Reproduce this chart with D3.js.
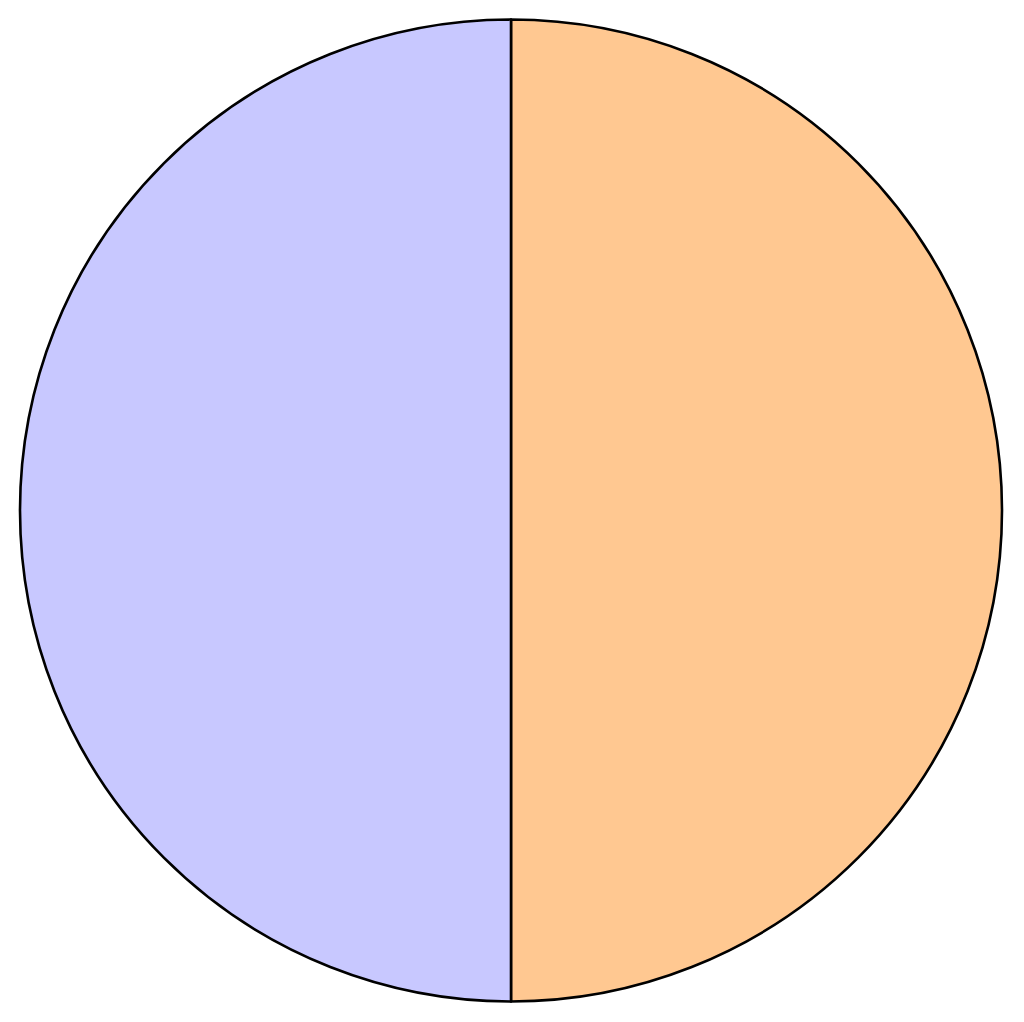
<!DOCTYPE html>
<html><head><meta charset="utf-8">
<script src="https://cdn.jsdelivr.net/npm/d3@7"></script>
<style>html,body{margin:0;padding:0;background:#fff;}svg{display:block;}</style>
</head><body>
<script>
const categories = ["A", "B"];
const values = [50, 50];
const colors = ["#ffc891", "#c8c8ff"];

const W = 1024, H = 1022;
const cx = 511, cy = 510.5, R = 491;
const svg = d3.select("body").append("svg").attr("width", W).attr("height", H);
const g = svg.append("g").attr("transform", `translate(${cx},${cy})`);
const data = categories.map((c, i) => ({cat: c, value: values[i]}));
const pie = d3.pie().value(d => d.value).sort(null);
const arc = d3.arc().innerRadius(0).outerRadius(R);
const color = d3.scaleOrdinal().domain(categories).range(colors);
g.selectAll("path").data(pie(data)).join("path")
  .attr("d", arc)
  .attr("fill", d => color(d.data.cat))
  .attr("stroke", "#000")
  .attr("stroke-width", 2.6)
  .attr("stroke-linejoin", "round");
</script>
</body></html>
